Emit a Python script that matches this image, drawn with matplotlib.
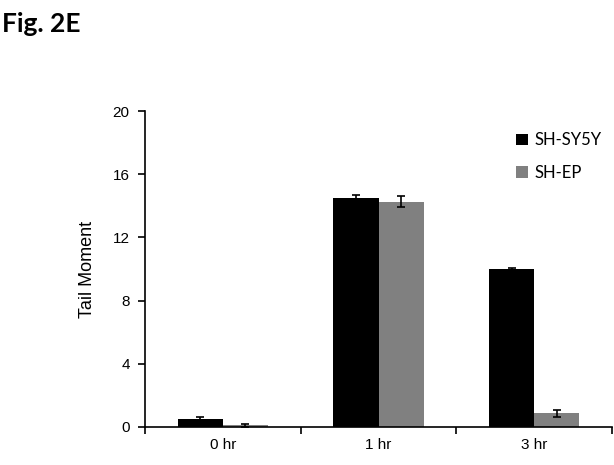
import numpy as np
import matplotlib.pyplot as plt

groups = ['0 hr', '1 hr', '3 hr']
sy5y = [0.5, 14.5, 10.0]
sy5y_err = [0.15, 0.2, 0.08]
shep = [0.1, 14.25, 0.85]
shep_err = [0.1, 0.35, 0.2]

fig = plt.figure(figsize=(6.14, 4.65), dpi=100)
ax = fig.add_axes([0.236, 0.082, 0.761, 0.679])

x = np.arange(len(groups))
w = 0.29
ax.bar(x - w / 2, sy5y, w, color='black', label='SH-SY5Y',
       yerr=sy5y_err, capsize=3, error_kw=dict(elinewidth=1.2, capthick=1.2, ecolor='black'))
ax.bar(x + w / 2, shep, w, color='#808080', label='SH-EP',
       yerr=shep_err, capsize=3, error_kw=dict(elinewidth=1.2, capthick=1.2, ecolor='black'))

ax.set_xlim(-0.5, 2.5)
ax.set_ylim(0, 20)
ax.set_yticks([0, 4, 8, 12, 16, 20])
ax.set_xticks([-0.5, 0.5, 1.5, 2.5])
ax.set_xticklabels([])
ax.set_xticks(x, minor=True)
ax.set_xticklabels(groups, minor=True)
ax.tick_params(axis='x', which='minor', length=0, pad=8, labelsize=11)
ax.tick_params(axis='x', which='major', direction='out', length=5, width=1.2)
ax.tick_params(axis='y', direction='out', length=5, width=1.2, labelsize=11, pad=6)
for lab in ax.get_xticklabels(minor=True) + ax.get_yticklabels():
    lab.set_family('Liberation Sans')
ax.spines['top'].set_visible(False)
ax.spines['right'].set_visible(False)
ax.spines['left'].set_linewidth(1.2)
ax.spines['bottom'].set_linewidth(1.2)
ax.set_ylabel('Tail Moment', fontsize=13, family='Liberation Sans', labelpad=12)

ax.legend(loc='upper right', bbox_to_anchor=(1.01, 0.98), frameon=False,
          prop={'family': 'Lato', 'size': 12}, handlelength=0.7, handleheight=0.7,
          handletextpad=0.4, labelspacing=1.0)

fig.text(0.003, 0.975, 'Fig. 2E', fontsize=19, fontweight='bold', family='Lato', va='top')

fig.savefig('out.png', dpi=100)
